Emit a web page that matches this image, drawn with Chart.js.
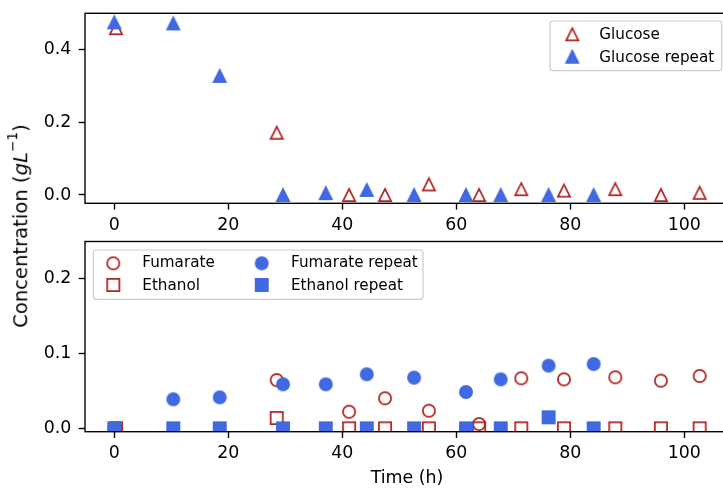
<!DOCTYPE html>
<html>
<head>
<meta charset="utf-8">
<script src="https://cdn.jsdelivr.net/npm/chart.js@4"></script>
<style>
  html, body { margin: 0; padding: 0; background: #fff; }
  #fig { position: relative; width: 723px; height: 489px; overflow: hidden; background: #fff;
         font-family: "DejaVu Sans", sans-serif; }
  #fig canvas { position: absolute; left: 0; top: 0; }
  .lab { position: absolute; color: #000; white-space: nowrap; line-height: 1; }
  #ylab { font-size: 19.6px; left: 21.2px; top: 225.5px; transform: translate(-50%, -50%) rotate(-90deg); }
  #ylab sup { font-size: 70%; vertical-align: 0.75em; line-height: 0; }
  #xlab { font-size: 17.4px; left: 407px; top: 468.7px; transform: translateX(-50%); }
</style>
</head>
<body>
<div id="fig">
  <canvas id="topChart" width="740" height="489"></canvas>
  <canvas id="bottomChart" width="740" height="489"></canvas>
  <div id="ylab" class="lab">Concentration (<i>gL</i><sup>−1</sup>)</div>
  <div id="xlab" class="lab">Time (h)</div>
</div>
<script>
// Sampling times (h) for the first run and the repeat run
const timesRun = [0.3, 28.5, 41.2, 47.5, 55.2, 64.0, 71.4, 78.9, 87.9, 95.9, 102.7];
const timesRepeat = [0, 10.35, 18.5, 29.6, 37.1, 44.3, 52.6, 61.7, 67.8, 76.2, 84.1];

// Concentrations (g/L)
const glucose        = [0.458, 0.171, 0.0, 0.0, 0.029, 0.0, 0.016, 0.012, 0.016, 0.0, 0.006];
const glucoseRepeat  = [0.474, 0.471, 0.327, 0.0, 0.005, 0.014, 0.0, 0.0, 0.0, 0.0, 0.0];
const fumarate       = [0.0, 0.0644, 0.0221, 0.040, 0.0235, 0.0057, 0.0667, 0.0653, 0.068, 0.0635, 0.0697];
const ethanol        = [0.0, 0.0137, 0.0, 0.0, 0.0, 0.0, 0.0, 0.0, 0.0, 0.0, 0.0];
const fumarateRepeat = [0.0, 0.0387, 0.0413, 0.0587, 0.0587, 0.072, 0.0675, 0.0484, 0.0653, 0.0835, 0.0857];
const ethanolRepeat  = [0.0, 0.0, 0.0, 0.0, 0.0, 0.0, 0.0, 0.0, 0.0, 0.0147, 0.0];

// Tick labels
const xTicks = [0, 20, 40, 60, 80, 100];
const yTicksTop = [0.0, 0.2, 0.4];
const yTicksBottom = [0.0, 0.1, 0.2];

const RED = '#b22222';
const BLUE = '#4169e1';
const FONT = 'DejaVu Sans';

// Marker glyphs: triangle, circle and square, open or filled
function marker(shape, color, filled) {
  const S = 12.2, lw = 1.74, n = 22;
  const c = document.createElement('canvas');
  c.width = n; c.height = n;
  const g = c.getContext('2d');
  const h = S / 2, cx = n / 2, cy = n / 2;
  g.beginPath();
  if (shape === 'tri') {
    g.moveTo(cx, cy - h); g.lineTo(cx - h, cy + h); g.lineTo(cx + h, cy + h); g.closePath();
    g.lineJoin = 'miter';
  } else if (shape === 'circ') {
    g.arc(cx, cy, h, 0, Math.PI * 2);
  } else {
    g.rect(cx - h, cy - h, S, S);
    g.lineJoin = 'miter';
  }
  if (filled) { g.fillStyle = color; g.fill(); }
  g.lineWidth = lw; g.strokeStyle = color; g.stroke();
  return c;
}

const mk = {
  triOpen: marker('tri', RED, false),
  triFill: marker('tri', BLUE, true),
  circOpen: marker('circ', RED, false),
  circFill: marker('circ', BLUE, true),
  sqOpen: marker('sq', RED, false),
  sqFill: marker('sq', BLUE, true)
};

function pts(xs, ys) { return xs.map((x, i) => ({ x: x, y: ys[i] })); }

function scatterSet(label, xs, ys, img, order) {
  return { label: label, data: pts(xs, ys), pointStyle: img, pointRadius: 7,
           pointHoverRadius: 7, showLine: false, clip: 0, order: order };
}

// Axes frame drawn over the data
const framePlugin = {
  id: 'frame',
  afterDatasetsDraw(chart) {
    const { ctx, chartArea: a } = chart;
    ctx.save();
    ctx.strokeStyle = '#000';
    ctx.lineWidth = 1.39;
    ctx.strokeRect(a.left, a.top, a.right - a.left, a.bottom - a.top);
    ctx.restore();
  }
};

// Legend box with marker + label rows
function keyPlugin(box, items) {
  return {
    id: 'keybox',
    afterDraw(chart) {
      const ctx = chart.ctx;
      ctx.save();
      const r = 3;
      ctx.beginPath();
      ctx.roundRect(box.x, box.y, box.w, box.h, r);
      ctx.fillStyle = 'rgba(255,255,255,0.8)';
      ctx.fill();
      ctx.lineWidth = 1.2;
      ctx.strokeStyle = '#cccccc';
      ctx.stroke();
      ctx.font = '15.2px "' + FONT + '"';
      ctx.fillStyle = '#000';
      ctx.textBaseline = 'alphabetic';
      ctx.textAlign = 'left';
      items.forEach(it => {
        ctx.drawImage(it.img, it.mx - it.img.width / 2, it.my - it.img.height / 2);
        ctx.fillText(it.text, it.tx, it.ty);
      });
      ctx.restore();
    }
  };
}

function axes(yMin, yMax, yTicks) {
  const tickFont = { family: FONT, size: 17.4 };
  const grid = { display: true, drawOnChartArea: false, drawTicks: true,
                 tickLength: 6.3, tickWidth: 1.39, tickColor: '#000' };
  return {
    x: {
      type: 'linear', min: -5.14, max: 108.2,
      afterBuildTicks: s => { s.ticks = xTicks.map(v => ({ value: v })); },
      afterFit: s => { s.height = 30; s.paddingLeft = 0; s.paddingRight = 0; },
      grid: grid, border: { display: false },
      ticks: { color: '#000', font: tickFont, padding: 5, maxRotation: 0, autoSkip: false,
               callback: v => String(v) }
    },
    y: {
      type: 'linear', min: yMin, max: yMax,
      afterBuildTicks: s => { s.ticks = yTicks.map(v => ({ value: v })); },
      afterFit: s => { s.width = 85; s.paddingTop = 0; s.paddingBottom = 0; },
      grid: grid, border: { display: false },
      ticks: { color: '#000', font: tickFont, padding: 7.3, autoSkip: false,
               callback: v => Number(v).toFixed(1) }
    }
  };
}

const common = {
  responsive: false,
  animation: false,
  events: [],
  plugins: { legend: { display: false }, tooltip: { enabled: false } }
};

// Glucose panel
const topSets = [
  scatterSet('Glucose', timesRun, glucose, mk.triOpen, 2),
  scatterSet('Glucose repeat', timesRepeat, glucoseRepeat, mk.triFill, 1)
];
new Chart(document.getElementById('topChart'), {
  type: 'scatter',
  data: { datasets: topSets },
  options: Object.assign({}, common, {
    layout: { padding: { top: 13.3, left: 0, right: 9, bottom: 489 - 203.3 - 30 } },
    scales: axes(-0.0228, 0.4988, yTicksTop)
  }),
  plugins: [framePlugin, keyPlugin({ x: 550, y: 21, w: 171.7, h: 49.7 }, [
    { img: mk.triOpen, mx: 572.3, my: 34.3, text: topSets[0].label, tx: 599.3, ty: 39.4 },
    { img: mk.triFill, mx: 572.3, my: 56.7, text: topSets[1].label, tx: 599.3, ty: 61.8 }
  ])]
});

// Fumarate / ethanol panel
const botSets = [
  scatterSet('Fumarate', timesRun, fumarate, mk.circOpen, 4),
  scatterSet('Ethanol', timesRun, ethanol, mk.sqOpen, 3),
  scatterSet('Fumarate repeat', timesRepeat, fumarateRepeat, mk.circFill, 2),
  scatterSet('Ethanol repeat', timesRepeat, ethanolRepeat, mk.sqFill, 1)
];
new Chart(document.getElementById('bottomChart'), {
  type: 'scatter',
  data: { datasets: botSets },
  options: Object.assign({}, common, {
    layout: { padding: { top: 241.5, left: 0, right: 9, bottom: 489 - 431.7 - 30 } },
    scales: axes(-0.0045, 0.249, yTicksBottom)
  }),
  plugins: [framePlugin, keyPlugin({ x: 93.3, y: 250, w: 329.7, h: 49.3 }, [
    { img: mk.circOpen, mx: 113.3, my: 263.3, text: botSets[0].label, tx: 142.3, ty: 267.4 },
    { img: mk.sqOpen,   mx: 113.3, my: 285.0, text: botSets[1].label, tx: 142.3, ty: 290.0 },
    { img: mk.circFill, mx: 261.7, my: 263.3, text: botSets[2].label, tx: 291.0, ty: 267.4 },
    { img: mk.sqFill,   mx: 261.7, my: 285.0, text: botSets[3].label, tx: 291.0, ty: 290.0 }
  ])]
});
</script>
</body>
</html>
